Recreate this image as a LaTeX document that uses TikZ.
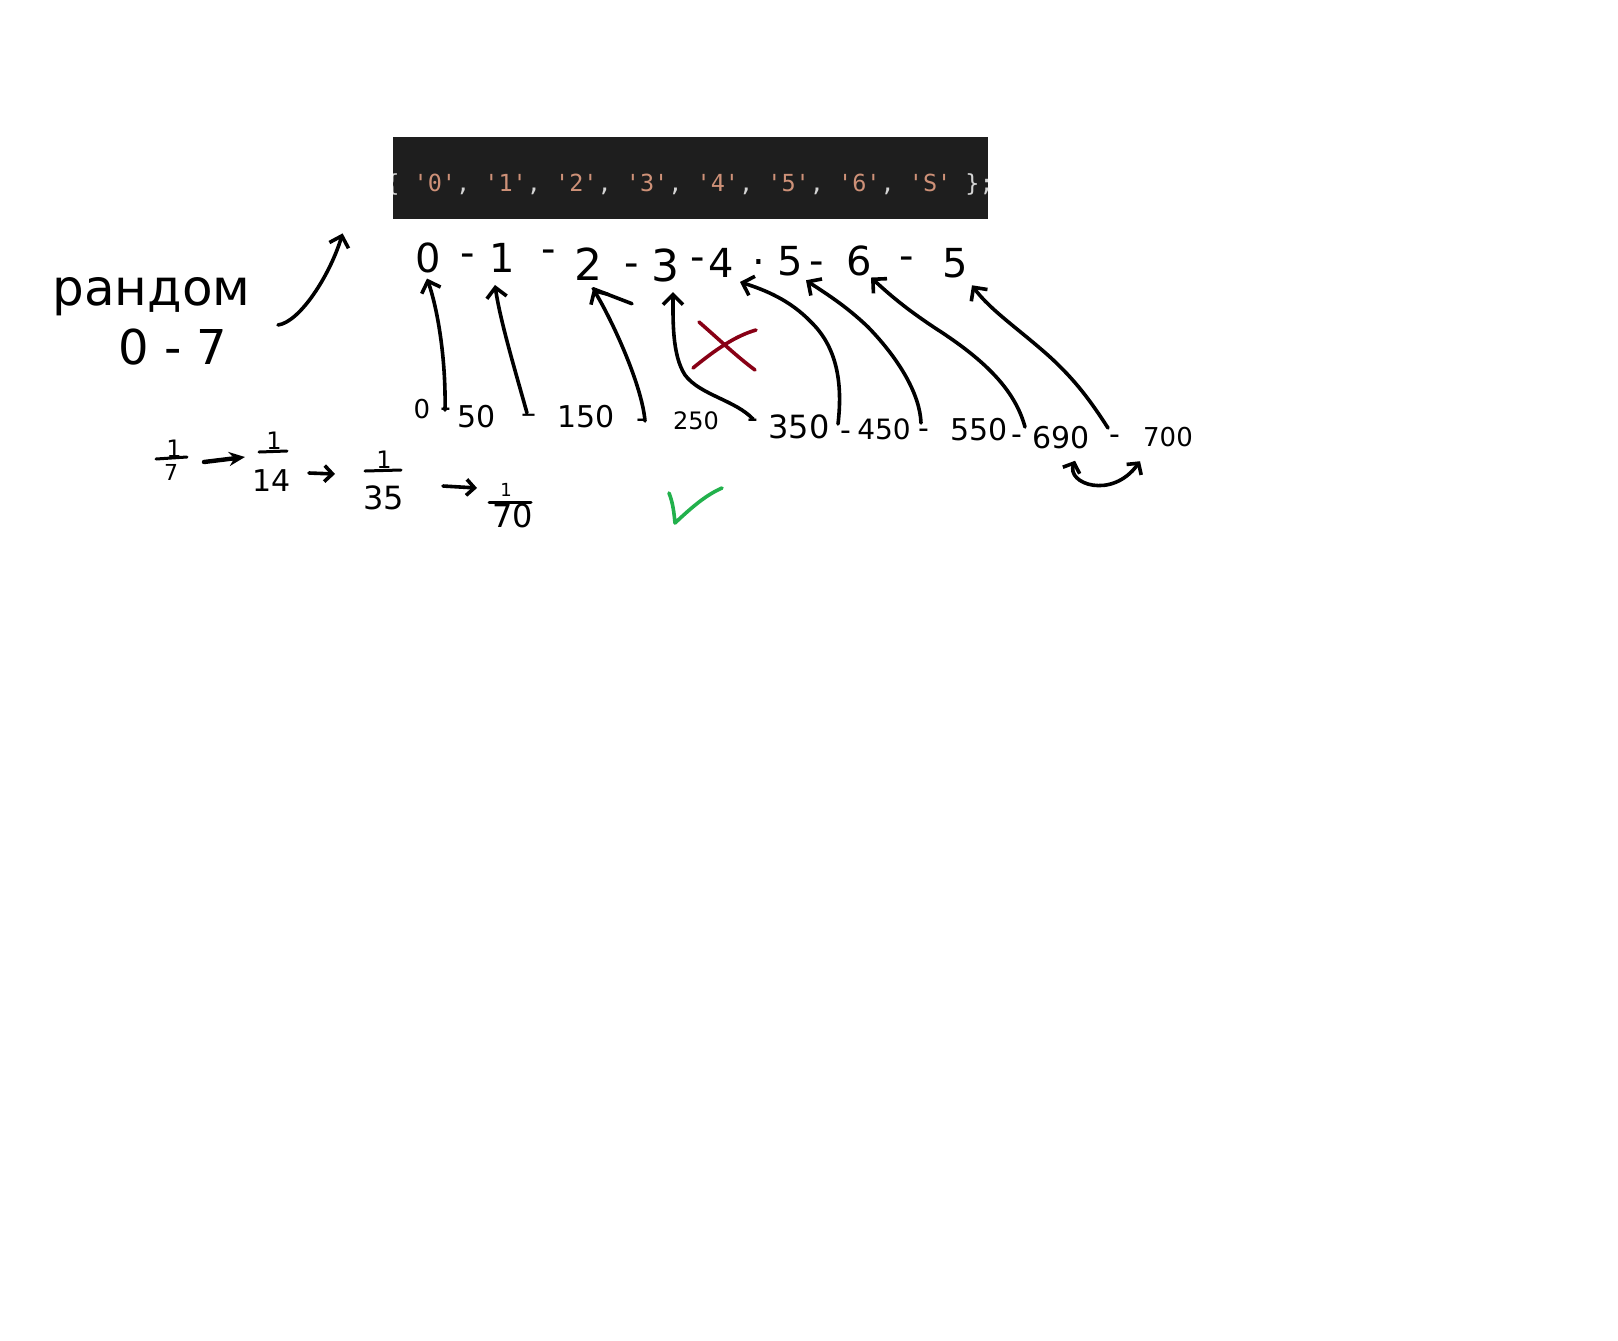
\documentclass[tikz,border=0pt]{standalone}
\usepackage{fontspec}
\setmainfont{DejaVu Sans}
\setmonofont{DejaVu Sans Mono}
\usetikzlibrary{arrows.meta}
\definecolor{codebg}{HTML}{1E1E1E}
\definecolor{codestr}{HTML}{CE9178}
\definecolor{codepun}{HTML}{D4D4D4}
\definecolor{inkred}{HTML}{880015}
\definecolor{inkgreen}{HTML}{22B14C}
\newcommand\fsz[1]{\fontsize{#1}{#1}\selectfont}
\newcommand\cs[1]{\textcolor{codestr}{'#1'}}
\begin{document}
\begin{tikzpicture}[x=0.5pt,y=-0.5pt,
  ink/.style={line width=1.8pt, line cap=round, line join=round},
  harrow/.style={ink, -{Straight Barb[length=5pt,width=10pt]}},
  sharrow/.style={ink, -{Straight Barb[length=4pt,width=8pt]}},
  txt/.style={inner sep=0pt, text=black},
  topd/.style={txt, font=\fsz{20pt}},
  botd/.style={txt, font=\fsz{15pt}},
]
\path[use as bounding box] (0,0) rectangle (1618,1340);
\fill[white] (0,0) rectangle (1618,1340);

% code strip
\node[fill=codebg, minimum width=297.5pt, minimum height=41pt, inner sep=0pt] (code) at (690.5,178) {};
\begin{scope}
\clip (393,137) rectangle (988,219);
\node[anchor=west, inner sep=0pt, font=\ttfamily\fsz{11.75pt}, text=codepun] (codetext) at (385,184)
  {\{ \cs{0}, \cs{1}, \cs{2}, \cs{3}, \cs{4}, \cs{5}, \cs{6}, \cs{S} \};};
\end{scope}

% left notes
\node[txt, anchor=base west, font=\fsz{25pt}] (rand) at (52,305) {рандом};
\node[txt, font=\fsz{24pt}] (range) at (173,347) {0 - 7};
\coordinate (randtail) at (278,325);
\draw[harrow] (randtail) .. controls (300,322) and (330,275) .. ([shift={(-50,14)}]code.south west);

% top row
\node[topd] (t0) at (428,258) {0};
\node[topd] (s1) at (468,260) {-};
\node[topd] (t1) at (502,258) {1};
\node[topd] (s2) at (549,256) {-};
\node[topd, font=\fsz{22pt}] (t2) at (588,264) {2};
\node[topd] (s3) at (632,270) {-};
\node[topd, font=\fsz{22pt}] (t3) at (665,265) {3};
\node[topd] (s4) at (698,264) {-};
\node[topd] (t4) at (721,263) {4};
\node[topd] (s5) at (759,262) {.};
\node[topd] (t5) at (790,261) {5};
\node[topd] (s6) at (817,268) {-};
\node[topd] (t6) at (859,261) {6};
\node[topd] (s7) at (907,263) {-};
\node[topd] (t7) at (955,263) {5};

% bottom row
\node[botd, font=\fsz{13pt}] (b0) at (422,409) {0};
\node[botd] (d1) at (446,413) {-};
\node[botd] (b50) at (477,417) {50};
\node[botd] (d2) at (529,419) {--};
\node[botd] (b150) at (586,417) {150};
\node[botd] (d3) at (642,424) {-};
\node[botd, font=\fsz{12pt}] (b250) at (696,421) {250};
\node[botd] (d4) at (753,424) {-};
\node[botd, font=\fsz{16pt}] (b350) at (799,427) {350};
\node[botd] (d5) at (846,436) {-};
\node[botd, font=\fsz{14pt}] (b450) at (884,429) {450};
\node[botd] (d6) at (924,434) {-};
\node[botd] (b550) at (979,430) {550};
\node[botd] (d7) at (1017,440) {-};
\node[botd] (b690) at (1061,438) {690};
\node[botd] (d8) at (1115,440) {-};
\node[botd, font=\fsz{13pt}] (b700) at (1168,437) {700};

% arrows bottom -> top
\draw[harrow] ([shift={(-1,-3)}]d1.center) .. controls (446,360) and (438,310) .. ([shift={(-1,5)}]t0.south);
\draw[harrow] ([shift={(-2,-6)}]d2.center) .. controls (515,370) and (500,320) .. ([shift={(-7,12)}]t1.south);
\draw[harrow] ([shift={(3,-3)}]d3.center) .. controls (642,385) and (612,320) .. ([shift={(5,8)}]t2.south);
\draw[ink] ([shift={(5,8)}]t2.south) -- +(39,15);
\draw[harrow] ([shift={(0,-5)}]d4.center) .. controls (735,400) and (700,395) .. (685,375)
   .. controls (672,355) and (673,320) .. ([shift={(8,10)}]t3.south);
\draw[harrow] ([shift={(-8,-12)}]d5.center) .. controls (842,390) and (840,350) .. (811,322)
   .. controls (790,300) and (765,290) .. ([shift={(19,4)}]t4.south);
\draw[harrow] ([shift={(-3,-11)}]d6.center) .. controls (920,395) and (900,360) .. (868,327)
   .. controls (845,305) and (825,293) .. ([shift={(16,4)}]t5.south);
\draw[harrow] ([shift={(8,-13)}]d7.center) .. controls (1015,390) and (985,360) .. (935,328)
   .. controls (905,308) and (890,295) .. ([shift={(12,1)}]t6.south);
\draw[harrow] ([shift={(-7,-12)}]d8.center) .. controls (1090,400) and (1075,380) .. (1050,357)
   .. controls (1020,330) and (990,310) .. ([shift={(17,7)}]t7.south);

% swap arrow
\draw[ink, {Straight Barb[length=4pt,width=9pt]}-{Straight Barb[length=4pt,width=9pt]}]
  ([shift={(14,11)}]b690.south) .. controls (1066,484) and (1112,500) .. ([shift={(-28,14)}]b700.south);

% red cross and green check
\draw[ink, inkred] (699,322) .. controls (722,342) and (735,355) .. (755,370);
\draw[ink, inkred] (693,368) .. controls (715,350) and (735,336) .. (756,330);
\draw[ink, inkgreen] (669,493) .. controls (673,503) and (674,513) .. (675,523)
   .. controls (692,507) and (706,495) .. (722,488);

% fractions
\node[txt, font=\fsz{12pt}] (f1n) at (174,449) {1};
\node[txt, font=\fsz{11pt}] (f1d) at (171,472) {7};
\draw[ink, line width=1.5pt] (156,459) -- (187,457);
\node[txt, font=\fsz{12pt}] (f2n) at (274,441) {1};
\node[txt, font=\fsz{15pt}] (f2d) at (272,481) {14};
\draw[ink, line width=1.5pt] (259,452) -- (287,451);
\node[txt, font=\fsz{12pt}] (f3n) at (384,460) {1};
\node[txt, font=\fsz{16pt}] (f3d) at (384,498) {35};
\draw[ink, line width=1.5pt] (365,471) -- (401,470);
\node[txt, font=\fsz{9pt}] (f4n) at (506,490) {1};
\node[txt, font=\fsz{16pt}] (f4d) at (513,516) {70};
\draw[ink, line width=1.5pt] (489,502) -- (531,502);

\draw[ink, line width=2.2pt, -{Stealth[length=8pt,width=7pt]}] ([shift={(33,-10)}]f1d.center) -- ([shift={(-27,-24)}]f2d.center);
\draw[sharrow] ([shift={(37,-8)}]f2d.center) -- ([shift={(-49,-24)}]f3d.center);
\draw[sharrow] ([shift={(59,-12)}]f3d.center) -- ([shift={(-36,-28)}]f4d.center);
\end{tikzpicture}
\end{document}
